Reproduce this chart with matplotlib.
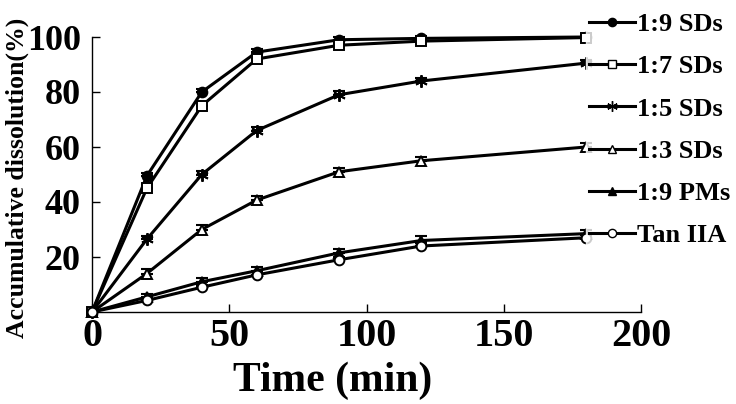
import matplotlib
matplotlib.use("Agg")
import matplotlib.pyplot as plt
import numpy as np

plt.rcParams['font.family'] = ['Liberation Serif', 'DejaVu Serif']
plt.rcParams['font.weight'] = 'bold'

time = [0, 20, 40, 60, 90, 120, 180]
labels = ["1:9 SDs", "1:7 SDs", "1:5 SDs", "1:3 SDs", "1:9 PMs", "Tan IIA"]
sd19 = [0, 49.5, 80, 94.5, 99, 99.5, 100]
sd17 = [0, 45, 75, 92, 97, 98.5, 99.8]
sd15 = [0, 26.5, 50, 66, 79, 84, 90.5]
sd13 = [0, 14, 30, 40.7, 51, 55, 60]
pm19 = [0, 5.5, 11, 15, 21.5, 26, 28.5]
tan = [0, 4.2, 9, 13.5, 19, 24, 27]
err19 = [0, 1.2, 1.2, 1.2, 1.0, 1.0, 1.0]
err17 = [0, 1.5, 1.5, 1.5, 1.0, 1.0, 1.0]
err15 = [0, 1.2, 1.2, 1.2, 1.2, 1.2, 1.2]
err13 = [0, 1.5, 1.5, 1.5, 1.5, 1.5, 1.5]
errpm = [0, 1.2, 1.5, 1.5, 1.5, 1.5, 1.5]
errtan = [0, 1.0, 1.0, 1.0, 1.0, 1.0, 1.0]

series = [sd19, sd17, sd15, sd13, pm19, tan]
errs = [err19, err17, err15, err13, errpm, errtan]
markers = ['o', 's', (6, 2, 0), '^', '^', 'o']
faces = ['black', 'white', 'black', 'white', 'black', 'white']
msizes = [7, 7, 9, 7, 7, 7]

fig = plt.figure(figsize=(7.36, 4.04), dpi=100)
ax = fig.add_axes([92/736, 1-312/404, (641-92)/736, (312-37)/404])

handles = []
for y, e, m, fc, ms, lab in zip(series, errs, markers, faces, msizes, labels):
    e = np.array(e)
    ax.errorbar(time, y, yerr=[np.zeros_like(e), e], fmt='none', ecolor='black',
                elinewidth=1.5, capsize=4, capthick=1.5, clip_on=False, zorder=2)
    ln, = ax.plot(time, y, color='black', lw=2.2, marker=m, markersize=ms,
                  markerfacecolor=fc, markeredgecolor='black', markeredgewidth=1.4,
                  clip_on=False, zorder=3)
    h, = ax.plot([], [], color='black', lw=2.2, marker=m, markersize=ms*0.85,
                 markerfacecolor=fc, markeredgecolor='black', markeredgewidth=1.0, label=lab)
    handles.append(h)

ax.set_xlim(0, 200)
ax.set_ylim(0, 100)
ax.set_xticks([0, 50, 100, 150, 200])
ax.set_yticks([20, 40, 60, 80, 100])
ax.spines['top'].set_visible(False)
ax.spines['right'].set_visible(False)
for s in ['left', 'bottom']:
    ax.spines[s].set_linewidth(1.0)
ax.tick_params(direction='in', length=6, width=1.0, pad=4)
ax.tick_params(axis='x', labelsize=29)
ax.tick_params(axis='y', labelsize=26, pad=8)
for t in ax.get_xticklabels() + ax.get_yticklabels():
    t.set_fontweight('bold')

ax.set_xlabel("Time (min)", fontsize=30, fontweight='bold')
ax.xaxis.set_label_coords((333-92)/(641-92), -(381-312)/(312-37))
ax.xaxis.label.set_va('center')
fig.text(17/736, 1-178/404, "Accumulative dissolution(%)", rotation=90, fontsize=18.5,
         fontweight='bold', ha='center', va='center')

leg = fig.legend(handles=handles, loc='upper left', bbox_to_anchor=(586/736, 0.975),
                 frameon=True, fontsize=19, handlelength=1.75, handletextpad=0.1,
                 labelspacing=0.71, borderpad=0.1, borderaxespad=0)
leg.get_frame().set_facecolor('white')
leg.get_frame().set_edgecolor('white')
for t in leg.get_texts():
    t.set_fontweight('bold')

fig.savefig("out.png", dpi=100)
